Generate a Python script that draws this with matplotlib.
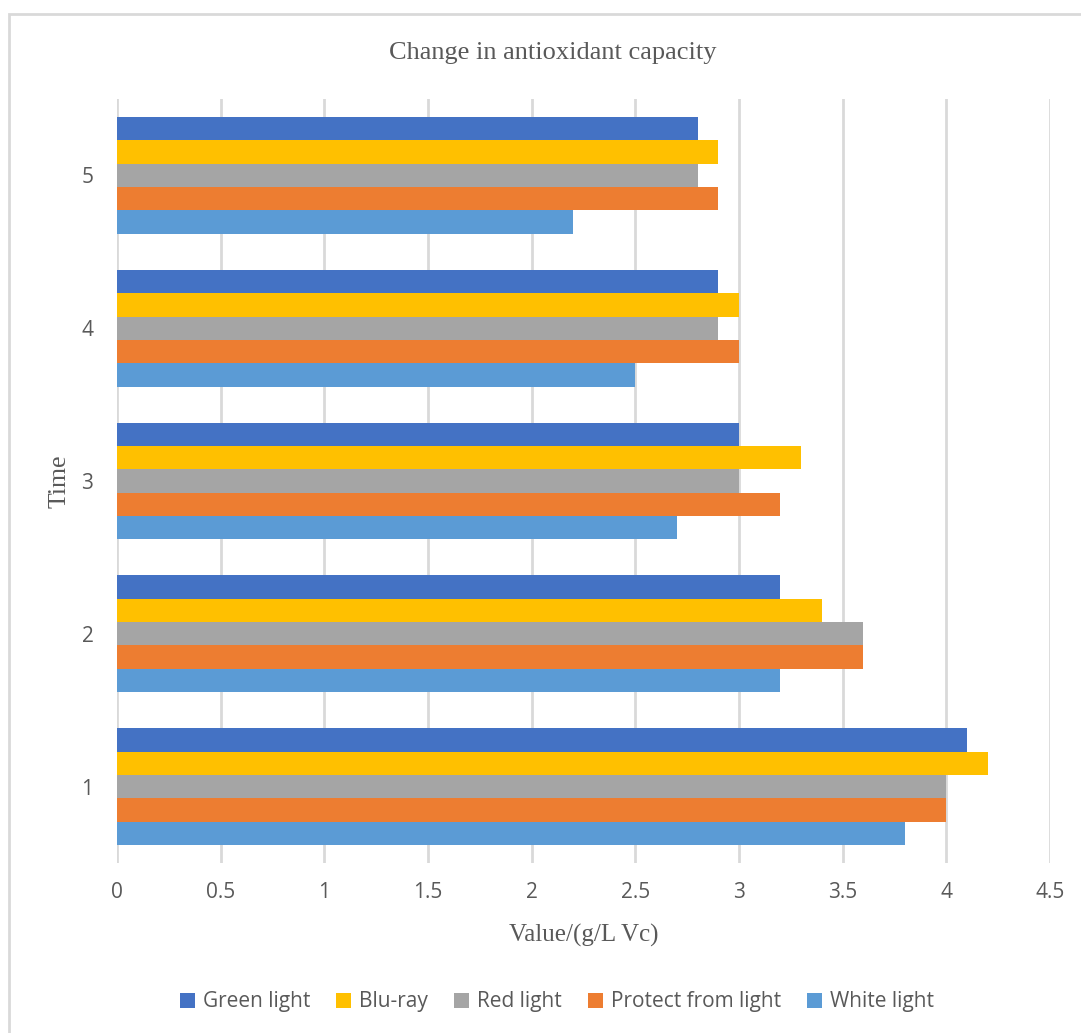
import matplotlib.pyplot as plt
from matplotlib.patches import Rectangle
import numpy as np

times = [1, 2, 3, 4, 5]
series = ["Green light", "Blu-ray", "Red light", "Protect from light", "White light"]
colors = ["#4472C4", "#FFC000", "#A5A5A5", "#ED7D31", "#5B9BD5"]

green = [4.1, 3.2, 3.0, 2.9, 2.8]
bluray = [4.2, 3.4, 3.3, 3.0, 2.9]
red = [4.0, 3.6, 3.0, 2.9, 2.8]
protect = [4.0, 3.6, 3.2, 3.0, 2.9]
white = [3.8, 3.2, 2.7, 2.5, 2.2]

xticks = [0, 0.5, 1, 1.5, 2, 2.5, 3, 3.5, 4, 4.5]

serif = "Liberation Serif"
sans = "Open Sans"
txt = "#595959"

fig = plt.figure(figsize=(10.81, 10.33), dpi=100)
# outer chart frame
fig.patches.append(Rectangle((9 / 1081, -0.05), 1.2, (1033 - 14) / 1033 + 0.05,
                             transform=fig.transFigure, fill=False,
                             edgecolor="#D9D9D9", linewidth=2))

ax = fig.add_axes([117 / 1081, (1033 - 863) / 1033, (1050 - 117) / 1081, (863 - 99) / 1033])

h = 0.153
y = np.array(times, dtype=float)
vals = [green, bluray, red, protect, white]
for i, (name, v, c) in enumerate(zip(series, vals, colors)):
    off = (2 - i) * h
    ax.barh(y + off, v, height=h, color=c, label=name, zorder=3)

ax.set_xlim(0, 4.5)
ax.set_ylim(0.5, 5.5)
ax.set_xticks(xticks)
ax.set_xticklabels([f"{t:g}" for t in xticks], fontfamily=sans, fontsize=15, color=txt)
ax.set_yticks(times)
ax.set_yticklabels([str(t) for t in times], fontfamily=sans, fontsize=15, color=txt)
ax.tick_params(axis="x", length=0, pad=14)
ax.tick_params(axis="y", length=0, pad=17)
ax.grid(axis="x", color="#D9D9D9", linewidth=2, zorder=0)
for s in ax.spines.values():
    s.set_visible(False)

ax.set_xlabel("Value/(g/L Vc)", fontfamily=serif, fontsize=18, color=txt, labelpad=15)
ax.set_ylabel("Time", fontfamily=serif, fontsize=18.5, color=txt, labelpad=8)
fig.text(553 / 1081, 1 - 53 / 1033, "Change in antioxidant capacity", fontfamily=serif,
         fontsize=19, color=txt, ha="center", va="center")

fig.legend(loc="center", bbox_to_anchor=(557 / 1081, 1 - 1002 / 1033), ncol=5,
           frameon=False, prop={"family": sans, "size": 15}, labelcolor=txt,
           handlelength=0.7, handleheight=0.7, handletextpad=0.4, columnspacing=1.25)

fig.savefig("out.png", dpi=100)
